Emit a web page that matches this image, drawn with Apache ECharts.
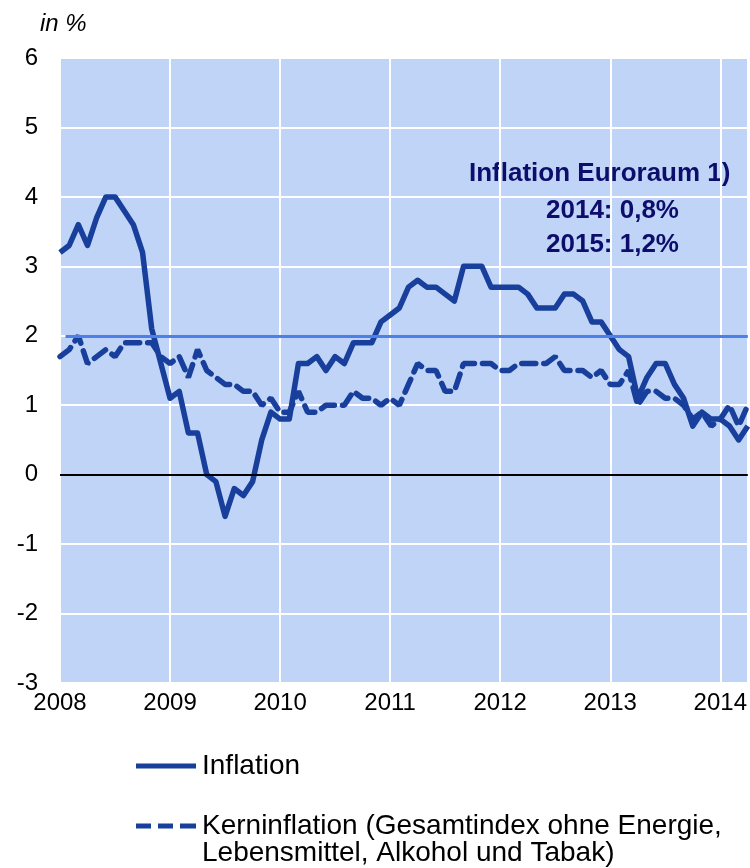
<!DOCTYPE html>
<html>
<head>
<meta charset="utf-8">
<script src="https://cdn.jsdelivr.net/npm/echarts@6/dist/echarts.min.js"></script>
<style>
  html, body { margin: 0; padding: 0; background: #fff; }
  #chart { width: 750px; height: 868px; }
</style>
</head>
<body>
<div id="chart"></div>
<script>
// monthly values, Jan 2008 .. Apr 2014 (index 0 = Jan 2008)
const startYear = 2008;
const inflation = [
  3.2, 3.3, 3.6, 3.3, 3.7, 4.0, 4.0, 3.8, 3.6, 3.2, 2.1, 1.6,
  1.1, 1.2, 0.6, 0.6, 0.0, -0.1, -0.6, -0.2, -0.3, -0.1, 0.5, 0.9,
  0.8, 0.8, 1.6, 1.6, 1.7, 1.5, 1.7, 1.6, 1.9, 1.9, 1.9, 2.2,
  2.3, 2.4, 2.7, 2.8, 2.7, 2.7, 2.6, 2.5, 3.0, 3.0, 3.0, 2.7,
  2.7, 2.7, 2.7, 2.6, 2.4, 2.4, 2.4, 2.6, 2.6, 2.5, 2.2, 2.2,
  2.0, 1.8, 1.7, 1.1, 1.4, 1.6, 1.6, 1.3, 1.1, 0.7, 0.9, 0.8,
  0.8, 0.7, 0.5, 0.7
];
const coreInflation = [
  1.7, 1.8, 2.0, 1.6, 1.7, 1.8, 1.7, 1.9, 1.9, 1.9, 1.9, 1.7,
  1.6, 1.7, 1.4, 1.8, 1.5, 1.4, 1.3, 1.3, 1.2, 1.2, 1.0, 1.1,
  0.9, 0.9, 1.2, 0.9, 0.9, 1.0, 1.0, 1.0, 1.2, 1.1, 1.1, 1.0,
  1.1, 1.0, 1.3, 1.6, 1.5, 1.5, 1.2, 1.2, 1.6, 1.6, 1.6, 1.6,
  1.5, 1.5, 1.6, 1.6, 1.6, 1.6, 1.7, 1.5, 1.5, 1.5, 1.4, 1.5,
  1.3, 1.3, 1.5, 1.0, 1.2, 1.2, 1.1, 1.1, 1.0, 0.8, 0.9, 0.7,
  0.8, 1.0, 0.7, 1.0
];
const target = 2;
const yTicks = { min: -3, max: 6, step: 1 };
const forecastLines = ['Inflation Euroraum 1)', '2014: 0,8%', '2015: 1,2%'];
const seriesNames = ['Inflation', 'Kerninflation (Gesamtindex ohne Energie,'];
const coreNameTail = 'Lebensmittel, Alkohol und Tabak)';

const LINE = '#173f9b';
const BG = '#c0d4f7';
const TARGET = '#4d7fe9';
const NAVY = '#0d0d6c';
const FONT = '"Liberation Sans", Arial, sans-serif';

const toPairs = (arr) => arr.map((v, i) => [i, v]);
const lastIdx = inflation.length - 1;

// legend swatches: a solid bar and three dashes
const SOLID_ICON = 'path://M0,0h60v5h-60z';
const DASH_ICON = 'path://M0,0h15v5h-15z M22,0h15v5h-15z M44,0h16v5h-16z';

const chart = echarts.init(document.getElementById('chart'));
chart.setOption({
  animation: false,
  textStyle: { fontFamily: FONT },
  grid: {
    left: 60, right: 2, top: 58, bottom: 185,
    show: true, backgroundColor: BG, borderWidth: 0,
  },
  xAxis: {
    type: 'value', min: 0, max: lastIdx, interval: 12,
    axisLine: { show: false },
    axisTick: { show: false },
    axisLabel: {
      color: '#000', fontSize: 24, margin: 8, fontFamily: FONT,
      formatter: (v) => String(startYear + v / 12),
    },
    splitLine: { show: true, lineStyle: { color: '#fff', width: 2 } },
  },
  yAxis: {
    type: 'value', min: yTicks.min, max: yTicks.max, interval: yTicks.step,
    axisLine: { show: false },
    axisTick: { show: false },
    axisLabel: { color: '#000', fontSize: 24, margin: 22, fontFamily: FONT },
    splitLine: { lineStyle: { color: '#fff', width: 2 } },
  },
  legend: {
    orient: 'vertical', left: 131, top: 747, itemGap: 32,
    itemWidth: 60, itemHeight: 5,
    textStyle: { color: '#000', fontSize: 28, fontFamily: FONT, padding: [0, 0, 0, 1] },
    itemStyle: { color: LINE, borderWidth: 0 },
    data: [
      { name: seriesNames[0], icon: SOLID_ICON },
      { name: seriesNames[1], icon: DASH_ICON },
    ],
  },
  series: [
    {
      name: seriesNames[0], type: 'line', data: toPairs(inflation),
      symbol: 'none', z: 4,
      lineStyle: { color: LINE, width: 5.5, join: 'round' },
      itemStyle: { color: LINE },
      markLine: {
        silent: true, symbol: 'none', animation: false,
        label: { show: false },
        data: [
          [{ coord: [0, 0], lineStyle: { color: '#000', width: 2, type: 'solid' } }, { coord: [lastIdx, 0] }],
          [{ coord: [0.6, target], lineStyle: { color: TARGET, width: 3, type: 'solid' } }, { coord: [lastIdx, target] }],
        ],
      },
    },
    {
      name: seriesNames[1], type: 'line', data: toPairs(coreInflation),
      symbol: 'none', z: 3,
      lineStyle: { color: LINE, width: 5.5, type: [14, 8], cap: 'round' },
      itemStyle: { color: LINE },
    },
  ],
  graphic: [
    { type: 'text', left: 40, top: 12,
      style: { text: 'in %', font: 'italic 24px ' + FONT, fill: '#000' } },
    { type: 'text', left: 469, top: 161,
      style: { text: forecastLines[0], font: 'bold 26px ' + FONT, fill: NAVY } },
    { type: 'text', left: 546, top: 198,
      style: { text: forecastLines[1], font: 'bold 26px ' + FONT, fill: NAVY } },
    { type: 'text', left: 546, top: 232,
      style: { text: forecastLines[2], font: 'bold 26px ' + FONT, fill: NAVY } },
    { type: 'text', left: 202, top: 839,
      style: { text: coreNameTail, font: '28px ' + FONT, fill: '#000' } },
  ],
});
</script>
</body>
</html>
